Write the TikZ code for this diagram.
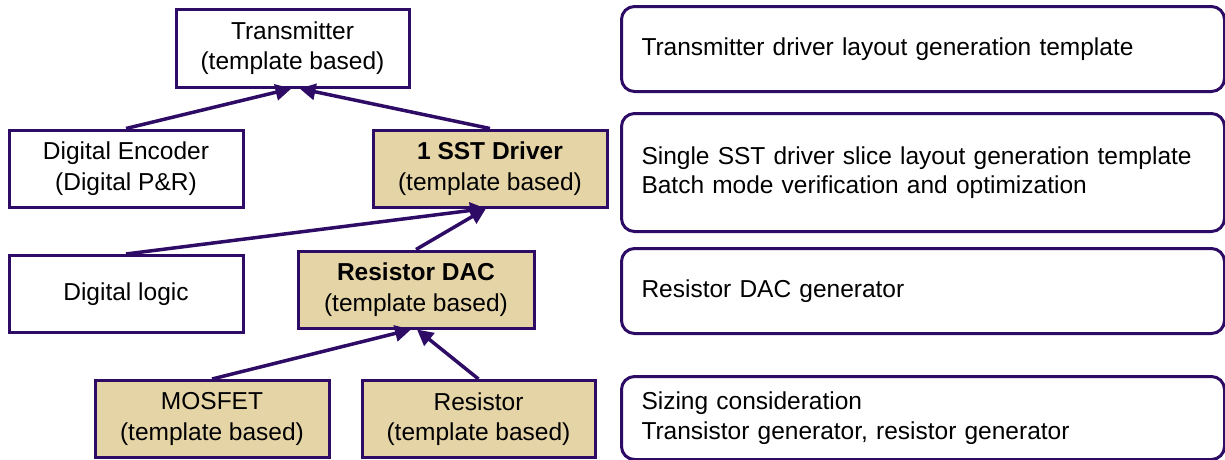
\documentclass[tikz,border=0pt]{standalone}
\usepackage{fontspec}
\setmainfont{Liberation Sans}
\usetikzlibrary{arrows.meta}
\definecolor{edge}{RGB}{46,12,102}
\definecolor{tan}{RGB}{229,212,166}
\tikzset{
  blk/.style={draw=edge, line width=3pt, fill=white, minimum width=234pt,
    minimum height=77pt, align=center, inner sep=2pt,
    font=\fontsize{24.5}{30.5}\selectfont},
  gen/.style={blk, fill=tan},
  note/.style={draw=edge, line width=3pt, rounded corners=13pt, fill=white,
    anchor=north west, text width=563pt, inner xsep=20pt, inner ysep=0pt,
    align=left, font=\fontsize{24.5}{29.5}\selectfont},
  link/.style={draw=edge, line width=3.5pt,
    -{Triangle[length=16pt,width=16pt]}},
}
\begin{document}
\begin{tikzpicture}[x=1pt,y=-1pt]
\useasboundingbox (0,0) rectangle (1225,459);

% hierarchy of blocks
\node[blk, minimum width=233pt, minimum height=78pt] (tx) at (292.5,48) {Transmitter\\(template based)};
\node[blk] (enc) at (126,168.5) {Digital Encoder\\(Digital P\&R)};
\node[gen] (sst) at (490,168.5) {\textbf{1 SST Driver}\\(template based)};
\node[blk] (dl) at (126,294) {Digital logic};
\node[gen, minimum width=236pt] (dac) at (416,289.5) {\textbf{Resistor DAC}\\(template based)};
\node[gen] (mos) at (212,419) {MOSFET\\(template based)};
\node[gen, minimum width=233pt] (res) at (478.5,419) {Resistor\\(template based)};

% dependencies
\draw[link] (enc.north) -- ([xshift=-1pt]tx.south);
\draw[link] (sst.north) -- ([xshift=7pt]tx.south);
\draw[link] (dl.north) -- ([xshift=-4pt]sst.south);
\draw[link] (dac.north) -- ([xshift=-4pt]sst.south);
\draw[link] (mos.north) -- ([xshift=-5pt]dac.south);
\draw[link] (res.north) -- ([xshift=1pt]dac.south);

% descriptions
\node[note, minimum height=85pt] (n1) at (620,5) {Transmitter driver layout generation template};
\node[note, minimum height=118pt] (n2) at (620,112) {Single SST driver slice layout generation template\\Batch mode verification and optimization};
\node[note, minimum height=85pt] (n3) at (620,247) {Resistor DAC generator};
\node[note, minimum height=83pt] (n4) at (620,375) {Sizing consideration\\Transistor generator, resistor generator};
\end{tikzpicture}
\end{document}
